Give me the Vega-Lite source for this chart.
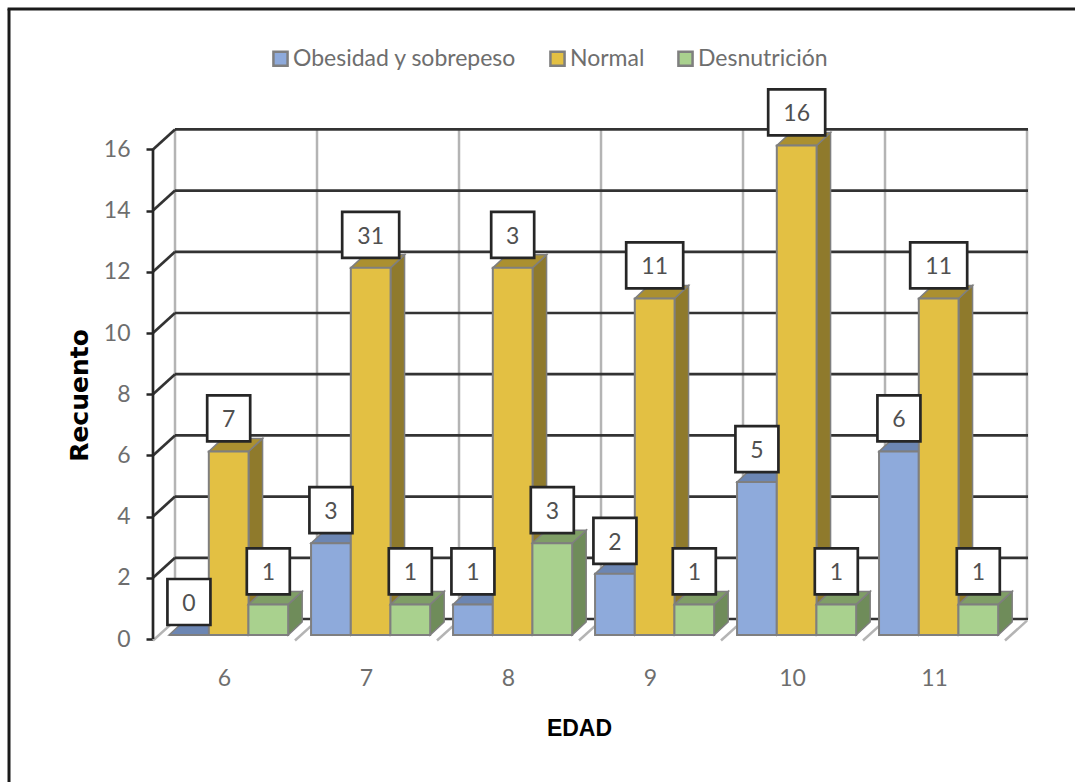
{
"$schema":"https://vega.github.io/schema/vega-lite/v6.json",
"width":875,"height":510,"autosize":"none",
"padding":{"left":153,"top":129,"right":47,"bottom":143},
"background":"white",
"config":{"view":{"stroke":null},"font":"Lato"},
"resolve":{"axis":{"x":"independent","y":"independent"}},
"datasets":{
"barras":[
{"edad":6,"serie":"Obesidad y sobrepeso","valor":0,"etiqueta":"0"},
{"edad":7,"serie":"Obesidad y sobrepeso","valor":3,"etiqueta":"3"},
{"edad":8,"serie":"Obesidad y sobrepeso","valor":1,"etiqueta":"1"},
{"edad":9,"serie":"Obesidad y sobrepeso","valor":2,"etiqueta":"2"},
{"edad":10,"serie":"Obesidad y sobrepeso","valor":5,"etiqueta":"5"},
{"edad":11,"serie":"Obesidad y sobrepeso","valor":6,"etiqueta":"6"},
{"edad":6,"serie":"Normal","valor":6,"etiqueta":"7"},
{"edad":7,"serie":"Normal","valor":12,"etiqueta":"31"},
{"edad":8,"serie":"Normal","valor":12,"etiqueta":"3"},
{"edad":9,"serie":"Normal","valor":11,"etiqueta":"11"},
{"edad":10,"serie":"Normal","valor":16,"etiqueta":"16"},
{"edad":11,"serie":"Normal","valor":11,"etiqueta":"11"},
{"edad":6,"serie":"Desnutrición","valor":1,"etiqueta":"1"},
{"edad":7,"serie":"Desnutrición","valor":1,"etiqueta":"1"},
{"edad":8,"serie":"Desnutrición","valor":3,"etiqueta":"3"},
{"edad":9,"serie":"Desnutrición","valor":1,"etiqueta":"1"},
{"edad":10,"serie":"Desnutrición","valor":1,"etiqueta":"1"},
{"edad":11,"serie":"Desnutrición","valor":1,"etiqueta":"1"}
],
"rejilla":[{"v":0},{"v":2},{"v":4},{"v":6},{"v":8},{"v":10},{"v":12},{"v":14},{"v":16}],
"bordes":[{"c":6},{"c":7},{"c":8},{"c":9},{"c":10},{"c":11},{"c":12}]
},
"data":{"name":"barras"},
"transform":[
{"calculate":"datum.edad + (datum.serie==='Obesidad y sobrepeso' ? -0.387 : datum.serie==='Normal' ? -0.107 : 0.172)","as":"izq"},
{"calculate":"datum.izq+0.28","as":"der"},
{"calculate":"datum.izq+0.14","as":"centro"},
{"calculate":"datum.valor+0.13","as":"cima"},
{"calculate":"[0,1]","as":"d"},
{"flatten":["d"]},
{"calculate":"datum.izq+datum.d*0.0986","as":"tx1"},
{"calculate":"datum.der+datum.d*0.0986","as":"tx2"},
{"calculate":"datum.cima+datum.d*0.425","as":"s1"},
{"calculate":"0.13+datum.d*0.425","as":"s0"}
],
"layer":[
{"data":{"name":"bordes"},"transform":[{"calculate":"datum.c-0.345","as":"xb"}],
 "mark":{"type":"rule","stroke":"#b4b4b4","strokeWidth":2.5},
 "encoding":{
  "x":{"field":"xb","type":"quantitative","scale":{"domain":[5.5,11.662]},
   "axis":{"values":[6,7,8,9,10,11],"format":"d","ticks":false,"domain":false,"grid":false,"labelFontSize":23,"labelColor":"#6e6e6e","labelPadding":28,"labelFont":"Lato","title":"EDAD","titleFont":"Liberation Sans","titleFontWeight":"bold","titleFontSize":23,"titleColor":"#000000","titleX":426,"titleY":78}},
  "y":{"datum":0.654,"type":"quantitative","scale":{"domain":[0,16.667]},
   "axis":{"values":[0,2,4,6,8,10,12,14,16],"format":"d","domain":false,"grid":false,"tickColor":"#262626","tickWidth":2.5,"tickSize":7,"labelFontSize":23,"labelColor":"#6e6e6e","labelPadding":16,"labelFont":"Lato","title":"Recuento","titleFont":"DejaVu Sans","titleFontWeight":"bold","titleFontSize":25,"titleColor":"#000000","titleX":-61,"titleY":266,"titleAngle":-90}},
  "y2":{"datum":16.654}}},
{"data":{"name":"rejilla"},"transform":[{"calculate":"datum.v+0.654","as":"yb"}],
 "mark":{"type":"rule","stroke":"#333333","strokeWidth":2.7},
 "encoding":{
  "x":{"datum":5.655,"type":"quantitative","scale":{"domain":[5.5,11.662]},"axis":null},
  "x2":{"datum":11.662},
  "y":{"field":"yb","type":"quantitative","scale":{"domain":[0,16.667]},"axis":null}}},
{"data":{"name":"rejilla"},"transform":[{"filter":"datum.v>0"},{"calculate":"datum.v+0.654","as":"yb"}],
 "mark":{"type":"rule","stroke":"#333333","strokeWidth":2.7},
 "encoding":{
  "x":{"datum":5.5,"type":"quantitative","scale":{"domain":[5.5,11.662]},"axis":null},
  "x2":{"datum":5.655},
  "y":{"field":"v","type":"quantitative","scale":{"domain":[0,16.667]},"axis":null},
  "y2":{"field":"yb"}}},
{"data":{"name":"bordes"},"transform":[{"calculate":"datum.c-0.5","as":"xa"},{"calculate":"datum.c-0.345","as":"xb"}],
 "mark":{"type":"rule","stroke":"#b4b4b4","strokeWidth":2.5},
 "encoding":{
  "x":{"field":"xa","type":"quantitative","scale":{"domain":[5.5,11.662]},"axis":null},
  "x2":{"field":"xb"},
  "y":{"datum":-0.05,"type":"quantitative","scale":{"domain":[0,16.667]},"axis":null},
  "y2":{"datum":0.6}}},
{"mark":{"type":"rule","stroke":"#262626","strokeWidth":2.7},
 "data":{"values":[{"a":0,"b":16}]},
 "encoding":{
  "x":{"datum":5.5,"type":"quantitative","scale":{"domain":[5.5,11.662]},"axis":null},
  "y":{"field":"a","type":"quantitative","scale":{"domain":[0,16.667]},"axis":null},
  "y2":{"field":"b"}}},

{"transform":[{"filter":"datum.serie==='Obesidad y sobrepeso'"}],
 "mark":{"type":"area","orient":"vertical","fill":"#5f78a6","stroke":"#7f7f7f","strokeWidth":1.5},
 "encoding":{"x":{"field":"tx2","type":"quantitative","scale":{"domain":[5.5,11.662]},"axis":null},
  "y":{"field":"s1","type":"quantitative","stack":null,"scale":{"domain":[0,16.667]},"axis":null},"y2":{"field":"s0"},"detail":{"field":"edad"}}},
{"transform":[{"filter":"datum.serie==='Obesidad y sobrepeso'"}],
 "mark":{"type":"area","orient":"horizontal","fill":"#6c86b3","stroke":"#7f7f7f","strokeWidth":1.5},
 "encoding":{"y":{"field":"s1","type":"quantitative","scale":{"domain":[0,16.667]},"axis":null},
  "x":{"field":"tx1","type":"quantitative","stack":null,"scale":{"domain":[5.5,11.662]},"axis":null},"x2":{"field":"tx2"},"detail":{"field":"edad"}}},
{"transform":[{"filter":"datum.serie==='Obesidad y sobrepeso' && datum.d===0"}],
 "mark":{"type":"rect","stroke":"#7f7f7f","strokeWidth":2},
 "encoding":{"x":{"field":"izq","type":"quantitative","scale":{"domain":[5.5,11.662]},"axis":null},"x2":{"field":"der"},
  "y":{"field":"cima","type":"quantitative","scale":{"domain":[0,16.667]},"axis":null},"y2":{"datum":0.13},
  "color":{"field":"serie","type":"nominal","scale":{"domain":["Obesidad y sobrepeso","Normal","Desnutrición"],"range":["#8eaadb","#e3c043","#a9d18e"]},
   "legend":{"title":null,"orient":"none","direction":"horizontal","legendX":116,"legendY":-82,"symbolType":"square","symbolSize":200,"symbolStrokeColor":"#6f6f6f","symbolStrokeWidth":2.5,"labelFontSize":23,"labelLimit":0,"labelColor":"#6e6e6e","labelFont":"Lato","columnPadding":28,"labelOffset":1,"symbolOpacity":1}}}},

{"transform":[{"filter":"datum.serie==='Normal'"}],
 "mark":{"type":"area","orient":"vertical","fill":"#8f7a2c","stroke":"#7f7f7f","strokeWidth":1.5},
 "encoding":{"x":{"field":"tx2","type":"quantitative","scale":{"domain":[5.5,11.662]},"axis":null},
  "y":{"field":"s1","type":"quantitative","stack":null,"scale":{"domain":[0,16.667]},"axis":null},"y2":{"field":"s0"},"detail":{"field":"edad"}}},
{"transform":[{"filter":"datum.serie==='Normal'"}],
 "mark":{"type":"area","orient":"horizontal","fill":"#ab9030","stroke":"#7f7f7f","strokeWidth":1.5},
 "encoding":{"y":{"field":"s1","type":"quantitative","scale":{"domain":[0,16.667]},"axis":null},
  "x":{"field":"tx1","type":"quantitative","stack":null,"scale":{"domain":[5.5,11.662]},"axis":null},"x2":{"field":"tx2"},"detail":{"field":"edad"}}},
{"transform":[{"filter":"datum.serie==='Normal' && datum.d===0"}],
 "mark":{"type":"rect","stroke":"#7f7f7f","strokeWidth":2},
 "encoding":{"x":{"field":"izq","type":"quantitative","scale":{"domain":[5.5,11.662]},"axis":null},"x2":{"field":"der"},
  "y":{"field":"cima","type":"quantitative","scale":{"domain":[0,16.667]},"axis":null},"y2":{"datum":0.13},
  "color":{"field":"serie","type":"nominal"}}},

{"transform":[{"filter":"datum.serie==='Desnutrición'"}],
 "mark":{"type":"area","orient":"vertical","fill":"#6f8c5a","stroke":"#7f7f7f","strokeWidth":1.5},
 "encoding":{"x":{"field":"tx2","type":"quantitative","scale":{"domain":[5.5,11.662]},"axis":null},
  "y":{"field":"s1","type":"quantitative","stack":null,"scale":{"domain":[0,16.667]},"axis":null},"y2":{"field":"s0"},"detail":{"field":"edad"}}},
{"transform":[{"filter":"datum.serie==='Desnutrición'"}],
 "mark":{"type":"area","orient":"horizontal","fill":"#7f9e66","stroke":"#7f7f7f","strokeWidth":1.5},
 "encoding":{"y":{"field":"s1","type":"quantitative","scale":{"domain":[0,16.667]},"axis":null},
  "x":{"field":"tx1","type":"quantitative","stack":null,"scale":{"domain":[5.5,11.662]},"axis":null},"x2":{"field":"tx2"},"detail":{"field":"edad"}}},
{"transform":[{"filter":"datum.serie==='Desnutrición' && datum.d===0"}],
 "mark":{"type":"rect","stroke":"#7f7f7f","strokeWidth":2},
 "encoding":{"x":{"field":"izq","type":"quantitative","scale":{"domain":[5.5,11.662]},"axis":null},"x2":{"field":"der"},
  "y":{"field":"cima","type":"quantitative","scale":{"domain":[0,16.667]},"axis":null},"y2":{"datum":0.13},
  "color":{"field":"serie","type":"nominal"}}},

{"transform":[{"filter":"datum.d===0 && length(datum.etiqueta)===1"}],
 "mark":{"type":"point","filled":true,"fill":"white","opacity":1,"stroke":"#262626","strokeWidth":2.7,"yOffset":-33,"size":10000,"shape":"M-0.43,-0.46H0.43V0.46H-0.43Z"},
 "encoding":{"x":{"field":"centro","type":"quantitative","scale":{"domain":[5.5,11.662]},"axis":null},
  "y":{"field":"cima","type":"quantitative","scale":{"domain":[0,16.667]},"axis":null}}},
{"transform":[{"filter":"datum.d===0 && length(datum.etiqueta)===2"}],
 "mark":{"type":"point","filled":true,"fill":"white","opacity":1,"stroke":"#262626","strokeWidth":2.7,"yOffset":-33,"size":10000,"shape":"M-0.57,-0.46H0.57V0.46H-0.57Z"},
 "encoding":{"x":{"field":"centro","type":"quantitative","scale":{"domain":[5.5,11.662]},"axis":null},
  "y":{"field":"cima","type":"quantitative","scale":{"domain":[0,16.667]},"axis":null}}},
{"transform":[{"filter":"datum.d===0"}],
 "mark":{"type":"text","font":"Lato","fontSize":23,"fill":"#505050","yOffset":-31,"baseline":"middle","align":"center"},
 "encoding":{"x":{"field":"centro","type":"quantitative","scale":{"domain":[5.5,11.662]},"axis":null},
  "y":{"field":"cima","type":"quantitative","scale":{"domain":[0,16.667]},"axis":null},
  "text":{"field":"etiqueta","type":"nominal"}}},

{"data":{"values":[{"a":-4.7,"b":20.6}]},
 "mark":{"type":"rule","stroke":"#1a1a1a","strokeWidth":3},
 "encoding":{"x":{"datum":4.486,"type":"quantitative","scale":{"domain":[5.5,11.662]},"axis":null},
  "y":{"field":"a","type":"quantitative","scale":{"domain":[0,16.667]},"axis":null},"y2":{"field":"b"}}},
{"data":{"values":[{"a":4.476,"b":12.0}]},
 "mark":{"type":"rule","stroke":"#1a1a1a","strokeWidth":3},
 "encoding":{"y":{"datum":20.59,"type":"quantitative","scale":{"domain":[0,16.667]},"axis":null},
  "x":{"field":"a","type":"quantitative","scale":{"domain":[5.5,11.662]},"axis":null},"x2":{"field":"b"}}}
]
}
